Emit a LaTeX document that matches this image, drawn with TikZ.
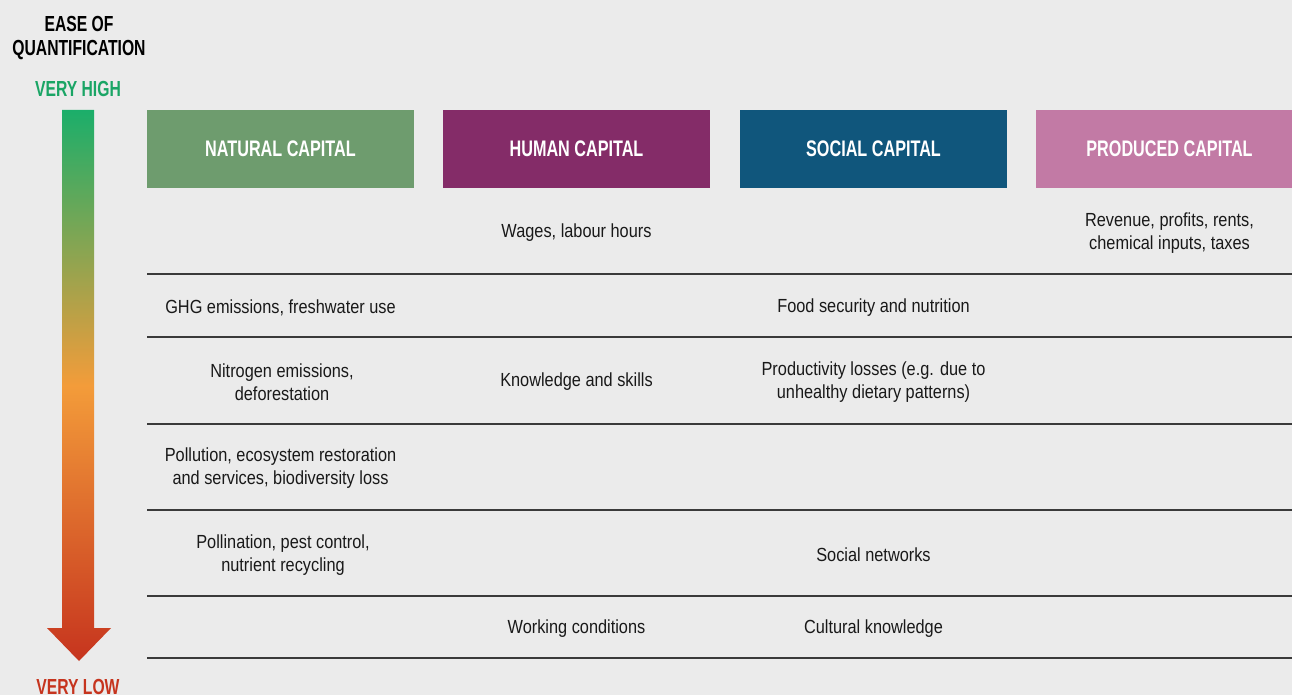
\documentclass[tikz,border=0pt]{standalone}
\usepackage{fontspec}
\setmainfont{Liberation Sans}[FakeStretch=0.86]
\newfontfamily\headfont{Liberation Sans Bold}[FakeStretch=0.72]
\usetikzlibrary{positioning}

\definecolor{fondo}{HTML}{EBEBEB}
\definecolor{natural}{HTML}{6E9C6E}
\definecolor{humano}{HTML}{842C68}
\definecolor{social}{HTML}{10567C}
\definecolor{producido}{HTML}{C27AA5}
\definecolor{verde}{HTML}{1BAE6A}
\definecolor{naranja}{HTML}{F39C3A}
\definecolor{rojo}{HTML}{C6341E}
\definecolor{linea}{HTML}{3A3A3A}

\begin{document}
\begin{tikzpicture}[x=0.025cm, y=-0.025cm]
  \tikzstyle{capital}=[rectangle, inner sep=0pt, minimum width=6.675cm, minimum height=1.95cm, text=white, font=\headfont\fontsize{16}{19}\selectfont]
  \tikzstyle{celda}=[align=center, inner sep=0pt, text=black!90, font=\fontsize{13.5}{16}\selectfont]
  \tikzstyle{escala}=[align=center, inner sep=0pt, font=\headfont\fontsize{15.5}{16.5}\selectfont]
  \tikzstyle{fila}=[-, line width=0.8pt, linea]

  % Fondo
  \fill[fondo] (0,0) rectangle (1292,695);
  \clip (0,0) rectangle (1292,695);

  % Escala a la izquierda
  \node[escala] (titulo) at (79,38) {EASE OF\\QUANTIFICATION};
  \node[escala, text=verde!95!black] (alto) at (78,89) {VERY HIGH};
  \node[escala, text=rojo] (bajo) at (78,687) {VERY LOW};
  \shade[top color=verde, bottom color=rojo, middle color=naranja]
    (62,110) -- (94,110) -- (94,628) -- (111,628) -- (79,661) -- (47,628) -- (62,628) -- cycle;

  % Cabeceras
  \node[capital, fill=natural] (nat) at (280.5,149) {NATURAL CAPITAL};
  \node[capital, fill=humano] (hum) at (576.5,149) {HUMAN CAPITAL};
  \node[capital, fill=social] (soc) at (873.5,149) {SOCIAL CAPITAL};
  \node[capital, fill=producido] (prod) at (1169.5,149) {PRODUCED CAPITAL};

  % Lineas entre filas
  \foreach \y in {274,337,424,510,596,658}
    \draw[fila] (147,\y) -- (1292,\y);

  % Fila 1
  \node[celda] (h1) at (576.5,233) {Wages, labour hours};
  \node[celda] (p1) at (1169.5,233) {Revenue, profits, rents,\\chemical inputs, taxes};
  % Fila 2
  \node[celda] (n2) at (280.5,308) {GHG emissions, freshwater use};
  \node[celda] (s2) at (873.5,308) {Food security and nutrition};
  % Fila 3
  \node[celda] (n3) at (282,382) {Nitrogen emissions,\\deforestation};
  \node[celda] (h3) at (576.5,382) {Knowledge and skills};
  \node[celda] (s3) at (873.5,382) {Productivity losses (e.g. due to\\unhealthy dietary patterns)};
  % Fila 4
  \node[celda] (n4) at (280.5,468) {Pollution, ecosystem restoration\\and services, biodiversity loss};
  % Fila 5
  \node[celda] (n5) at (283,555) {Pollination, pest control,\\nutrient recycling};
  \node[celda] (s5) at (873.5,555) {Social networks};
  % Fila 6
  \node[celda] (h6) at (576.5,629) {Working conditions};
  \node[celda] (s6) at (873.5,629) {Cultural knowledge};
\end{tikzpicture}
\end{document}
